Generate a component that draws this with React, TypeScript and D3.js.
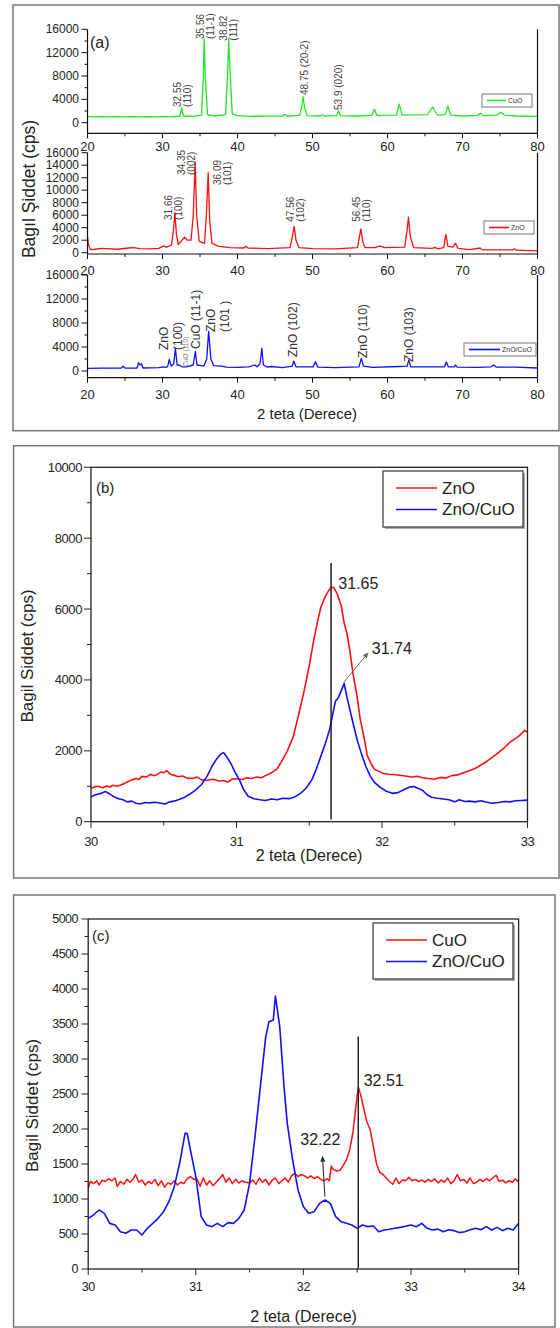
import React from "react";
import * as d3 from "d3";

type P = [number, number];

// ---------- Panel (a) patterns: [2θ, intensity] ----------
const cuoPatternA: P[] = [
  [20, 1050], [21, 1000], [22, 1040], [23, 1000], [24, 1050], [25, 990], [26, 1040], [27, 1000], [28, 1050], [29, 1000], [30, 1040], [31.5, 1060],
  [32.3, 1100], [32.55, 2500], [32.8, 1150], [34, 1100], [35.2, 1300], [35.45, 8000], [35.56, 14300], [35.7, 8000], [36, 1400], [37, 1150],
  [38.4, 1400], [38.7, 9000], [38.82, 14400], [39.0, 9000], [39.3, 1500], [40, 1200], [42, 1100], [44, 1120], [46, 1150], [46.3, 1450],
  [46.6, 1150], [48.3, 1250], [48.6, 3000], [48.75, 4450], [48.95, 2500], [49.3, 1200], [51, 1150], [51.3, 1350], [51.6, 1150], [53.2, 1200],
  [53.48, 2000], [53.75, 1200], [56, 1150], [57.9, 1250], [58.24, 2300], [58.6, 1250], [61.2, 1300], [61.57, 3200], [61.95, 1300],
  [65.3, 1400], [65.8, 2300], [66.05, 2650], [66.3, 2000], [66.7, 1300], [67.7, 1400], [68.05, 2850], [68.4, 1300], [70, 1150], [72, 1250],
  [72.4, 1600], [72.8, 1200], [74.6, 1300], [75.1, 1800], [75.6, 1300], [77, 1150], [80, 1100],
];

const znoPatternA: P[] = [
  [20, 2600], [20.15, 1200], [20.4, 500], [21, 550], [21.8, 700], [22.5, 650], [24, 550], [25.5, 750], [26.2, 800], [27, 650], [28.5, 600],
  [29.5, 700], [30.2, 1100], [30.5, 900], [31.2, 1200], [31.45, 3500], [31.66, 6400], [31.85, 3000], [32.1, 1300], [32.6, 2000], [32.95, 2500],
  [33.3, 2000], [33.8, 2000], [34.1, 6000], [34.35, 14500], [34.55, 6000], [34.9, 1800], [35.6, 1500], [35.85, 6000], [36.09, 12800],
  [36.3, 5000], [36.6, 1500], [37.5, 1000], [39, 800], [40.8, 750], [41.1, 1050], [41.4, 750], [44, 650], [47, 800], [47.3, 2500],
  [47.56, 4200], [47.8, 2000], [48.2, 800], [50, 650], [53, 600], [56.0, 800], [56.25, 2500], [56.45, 3800], [56.7, 1800], [57, 800],
  [58.3, 800], [59, 1100], [59.6, 800], [62.3, 900], [62.6, 3500], [62.8, 5700], [63.05, 2500], [63.5, 800], [66, 700], [66.35, 850],
  [66.7, 600], [67.5, 800], [67.78, 2950], [68.05, 1000], [68.7, 900], [69.05, 1500], [69.4, 700], [71, 500], [72.35, 750], [72.6, 450],
  [76.7, 450], [76.95, 600], [77.2, 400], [80, 300],
];

const compositePatternA: P[] = [
  [20, 450], [22, 480], [24.5, 480], [24.75, 800], [25, 480], [26.6, 500], [26.8, 1400], [27.0, 1000], [27.2, 1200], [27.4, 500], [29.5, 550],
  [30.15, 700], [30.5, 600], [30.7, 800], [30.9, 1950], [31.15, 800], [31.5, 1200], [31.72, 3800], [31.95, 1000], [32.2, 1000], [32.6, 700],
  [33.2, 700], [34.1, 1000], [34.38, 3250], [34.6, 1000], [35.2, 900], [35.5, 800], [35.9, 2000], [36.15, 6600], [36.45, 2000], [36.8, 900],
  [37.9, 800], [38.5, 650], [40, 600], [41.5, 700], [42.3, 1000], [42.6, 700], [43.0, 1200], [43.24, 3800], [43.45, 1000], [44, 650],
  [44.5, 750], [46, 550], [47.3, 800], [47.5, 1650], [47.8, 700], [50.1, 700], [50.4, 1550], [50.7, 650], [53, 550], [56.2, 700],
  [56.5, 2100], [56.8, 800], [58, 600], [61.5, 750], [62.6, 800], [62.85, 1850], [63.1, 700], [66.4, 700], [67.6, 700], [67.85, 1500],
  [68.1, 700], [68.9, 700], [69.05, 1000], [69.3, 650], [72, 600], [73.8, 700], [74.15, 1000], [74.5, 650], [77, 650], [80, 500],
];

// ---------- Panel (b) ----------
const znoZoomB: P[] = [
  [30.0, 940], [30.03, 990], [30.05, 1000], [30.08, 960], [30.11, 1010], [30.13, 980], [30.15, 1030], [30.18, 1000], [30.21, 1040], [30.25, 1120], [30.28, 1180],
  [30.31, 1220], [30.33, 1190], [30.35, 1280], [30.38, 1260], [30.41, 1340], [30.43, 1300], [30.45, 1320], [30.48, 1400], [30.5, 1380], [30.52, 1440], [30.55, 1330],
  [30.58, 1300], [30.6, 1270], [30.63, 1290], [30.66, 1230], [30.7, 1220], [30.73, 1260], [30.76, 1180], [30.8, 1170], [30.84, 1200],
  [30.88, 1150], [30.91, 1160], [30.94, 1120], [30.97, 1200], [31.0, 1210], [31.04, 1190], [31.07, 1240], [31.1, 1220], [31.14, 1260],
  [31.17, 1240], [31.2, 1300], [31.24, 1380], [31.28, 1500], [31.31, 1700], [31.35, 2000], [31.39, 2400], [31.42, 2900], [31.46, 3600],
  [31.5, 4400], [31.53, 5100], [31.56, 5700], [31.58, 6050], [31.61, 6350], [31.63, 6500], [31.65, 6620], [31.67, 6600], [31.69, 6450],
  [31.72, 6100], [31.74, 5600], [31.76, 5300], [31.78, 4800], [31.8, 4200], [31.83, 3500], [31.85, 2900], [31.88, 2300], [31.9, 1850],
  [31.93, 1600], [31.95, 1470], [31.98, 1420], [32.01, 1360], [32.04, 1340], [32.08, 1330], [32.12, 1310], [32.16, 1290], [32.2, 1260],
  [32.24, 1280], [32.28, 1240], [32.32, 1220], [32.36, 1200], [32.4, 1250], [32.44, 1230], [32.48, 1300], [32.52, 1320], [32.56, 1380],
  [32.6, 1440], [32.64, 1500], [32.68, 1600], [32.72, 1700], [32.76, 1820], [32.8, 1950], [32.84, 2080], [32.88, 2250], [32.92, 2350],
  [32.95, 2450], [32.98, 2580], [33.0, 2520],
];

const compositeZoomB: P[] = [
  [30.0, 700], [30.03, 760], [30.07, 800], [30.1, 850], [30.13, 780], [30.16, 700], [30.19, 650], [30.22, 620], [30.25, 560], [30.28, 580],
  [30.31, 520], [30.34, 500], [30.37, 540], [30.4, 530], [30.44, 550], [30.48, 520], [30.51, 500], [30.54, 560], [30.57, 580], [30.6, 620],
  [30.64, 680], [30.68, 780], [30.72, 900], [30.76, 1050], [30.8, 1300], [30.83, 1550], [30.86, 1750], [30.89, 1900], [30.91, 1950],
  [30.93, 1850], [30.96, 1650], [30.99, 1400], [31.02, 1180], [31.05, 900], [31.08, 720], [31.12, 650], [31.16, 620], [31.2, 600],
  [31.24, 640], [31.28, 620], [31.32, 660], [31.36, 650], [31.4, 700], [31.44, 800], [31.48, 950], [31.52, 1200], [31.55, 1500],
  [31.58, 1850], [31.61, 2200], [31.64, 2600], [31.66, 3000], [31.68, 3400], [31.7, 3500], [31.72, 3700], [31.74, 3900], [31.76, 3500],
  [31.78, 3150], [31.8, 2800], [31.83, 2300], [31.86, 1900], [31.89, 1550], [31.92, 1280], [31.95, 1100], [31.99, 960], [32.03, 860],
  [32.07, 800], [32.11, 820], [32.15, 900], [32.19, 980], [32.22, 990], [32.25, 940], [32.28, 880], [32.31, 760], [32.34, 690],
  [32.38, 660], [32.42, 640], [32.46, 620], [32.5, 560], [32.53, 620], [32.57, 570], [32.6, 580], [32.64, 560], [32.68, 590],
  [32.72, 550], [32.76, 520], [32.8, 540], [32.84, 570], [32.88, 560], [32.92, 590], [32.96, 600], [33.0, 610],
];

// ---------- Panel (c) ----------
const cuoZoomC: P[] = [
  [30.0, 1150], [30.02, 1250], [30.05, 1220], [30.08, 1260], [30.1, 1200], [30.13, 1270], [30.16, 1250], [30.19, 1290], [30.22, 1260],
  [30.25, 1300], [30.27, 1180], [30.3, 1250], [30.33, 1210], [30.36, 1280], [30.39, 1240], [30.42, 1290], [30.44, 1350], [30.47, 1240],
  [30.5, 1270], [30.53, 1200], [30.56, 1250], [30.59, 1220], [30.62, 1280], [30.65, 1190], [30.68, 1260], [30.71, 1170], [30.74, 1230],
  [30.77, 1210], [30.8, 1260], [30.83, 1200], [30.86, 1240], [30.89, 1220], [30.92, 1290], [30.95, 1320], [30.98, 1280], [31.01, 1290],
  [31.04, 1180], [31.07, 1300], [31.1, 1200], [31.13, 1260], [31.16, 1190], [31.19, 1240], [31.22, 1290], [31.25, 1350], [31.28, 1240],
  [31.31, 1300], [31.34, 1220], [31.37, 1280], [31.4, 1230], [31.43, 1260], [31.46, 1240], [31.5, 1230], [31.53, 1270], [31.56, 1210],
  [31.59, 1300], [31.62, 1240], [31.65, 1280], [31.68, 1200], [31.71, 1270], [31.74, 1300], [31.77, 1220], [31.8, 1260], [31.83, 1300],
  [31.86, 1240], [31.89, 1330], [31.92, 1370], [31.95, 1320], [31.98, 1350], [32.01, 1330], [32.04, 1300], [32.07, 1330], [32.1, 1290],
  [32.13, 1320], [32.16, 1280], [32.19, 1260], [32.22, 1290], [32.24, 1260], [32.26, 1470], [32.28, 1420], [32.31, 1400], [32.34, 1410],
  [32.37, 1480], [32.4, 1560], [32.43, 1700], [32.46, 1950], [32.49, 2350], [32.51, 2600], [32.53, 2500], [32.56, 2300], [32.59, 2100],
  [32.62, 2000], [32.65, 1750], [32.68, 1500], [32.71, 1380], [32.74, 1350], [32.77, 1300], [32.8, 1250], [32.83, 1210], [32.86, 1300],
  [32.89, 1220], [32.92, 1270], [32.95, 1260], [32.98, 1310], [33.01, 1260], [33.04, 1280], [33.07, 1250], [33.1, 1270], [33.13, 1240],
  [33.16, 1280], [33.19, 1250], [33.22, 1290], [33.25, 1230], [33.28, 1270], [33.31, 1240], [33.34, 1300], [33.37, 1220], [33.4, 1260],
  [33.43, 1350], [33.46, 1260], [33.49, 1280], [33.52, 1230], [33.55, 1300], [33.58, 1220], [33.61, 1240], [33.64, 1280], [33.67, 1250],
  [33.7, 1290], [33.73, 1260], [33.76, 1300], [33.79, 1340], [33.82, 1250], [33.85, 1270], [33.88, 1230], [33.91, 1260], [33.94, 1240],
  [33.97, 1290], [34.0, 1240],
];

const compositeZoomC: P[] = [
  [30.0, 724], [30.05, 771], [30.1, 843], [30.15, 795], [30.2, 652], [30.25, 629], [30.3, 533], [30.35, 510], [30.4, 557], [30.45, 557],
  [30.5, 486], [30.55, 581], [30.6, 652], [30.65, 724], [30.7, 819], [30.75, 962], [30.8, 1176], [30.85, 1510], [30.9, 1938], [30.92, 1938],
  [30.95, 1700], [31.0, 1319], [31.05, 748], [31.1, 629], [31.15, 605], [31.2, 652], [31.25, 605], [31.3, 662], [31.35, 652], [31.4, 724],
  [31.45, 843], [31.5, 1224], [31.55, 1891], [31.6, 2605], [31.65, 3319], [31.68, 3533], [31.72, 3557], [31.74, 3900], [31.78, 3462],
  [31.82, 2605], [31.85, 2081], [31.9, 1557], [31.95, 1129], [32.0, 890], [32.05, 795], [32.1, 819], [32.15, 938], [32.2, 986],
  [32.25, 938], [32.3, 748], [32.35, 676], [32.4, 652], [32.45, 629], [32.5, 581], [32.55, 629], [32.6, 605], [32.65, 614], [32.7, 533],
  [32.75, 557], [32.8, 567], [32.85, 581], [32.9, 595], [32.95, 610], [33.0, 629], [33.05, 605], [33.1, 652], [33.15, 581], [33.2, 557],
  [33.25, 570], [33.3, 533], [33.35, 560], [33.4, 548], [33.45, 520], [33.5, 533], [33.55, 560], [33.6, 581], [33.65, 560], [33.7, 605],
  [33.75, 557], [33.8, 595], [33.85, 548], [33.9, 581], [33.95, 557], [34.0, 652],
];

// ---------- ticks ----------
const xTicksA = [20, 30, 40, 50, 60, 70, 80];
const yTicksA4k = [0, 4000, 8000, 12000, 16000];
const yTicksA2k = [0, 2000, 4000, 6000, 8000, 10000, 12000, 14000, 16000];
const xTicksB = [30, 31, 32, 33];
const yTicksB = [0, 2000, 4000, 6000, 8000, 10000];
const xTicksC = [30, 31, 32, 33, 34];
const yTicksC = [0, 500, 1000, 1500, 2000, 2500, 3000, 3500, 4000, 4500, 5000];

// ---------- peak labels (a) ----------
const cuoLabels = [
  { x: 32.6, y: 2700, lines: ["32.55", "(110)"] },
  { x: 35.7, y: 14340, lines: ["35.56", "(11-1)"] },
  { x: 38.8, y: 14050, lines: ["38.82", "(111)"] },
  { x: 48.87, y: 4745, lines: ["48.75 (20-2)"] },
  { x: 53.53, y: 2175, lines: ["53.9 (020)"] },
];
const znoLabels = [
  { x: 31.44, y: 5230, lines: ["31.66", "(100)"] },
  { x: 33.2, y: 12430, lines: ["34.35", "(002)"] },
  { x: 38.0, y: 10830, lines: ["36.09", "(101)"] },
  { x: 47.73, y: 4960, lines: ["47.56", "(102)"] },
  { x: 56.53, y: 4960, lines: ["56.45", "(110)"] },
];
const compositeLabels = [
  { x: 31.07, y: 3500, lines: ["ZnO", "(100)"] },
  { x: 34.43, y: 3667, lines: ["CuO (11-1)"] },
  { x: 37.38, y: 6500, lines: ["ZnO", "(101 )"] },
  { x: 47.39, y: 2330, lines: ["ZnO (102)"] },
  { x: 56.67, y: 2170, lines: ["ZnO (110)"] },
  { x: 62.87, y: 1500, lines: ["ZnO (103)"] },
];

const FONT = "Arial, 'Liberation Sans', Helvetica, sans-serif";
const GREEN = "#22e622";
const RED = "#ff1010";
const BLUE = "#1010ff";

type Scale = d3.ScaleLinear<number, number>;

function lineOf(xs: Scale, ys: Scale, d: P[]) {
  return d3.line<P>().x((p) => xs(p[0])).y((p) => ys(p[1]))(d) || "";
}

function RotLabel({ x, y, lines, size, gap, color }: { x: number; y: number; lines: string[]; size: number; gap: number; color: string }) {
  const n = lines.length;
  return (
    <g>
      {lines.map((t, i) => (
        <text
          key={i}
          transform={`translate(${x + (i - (n - 1) / 2) * gap},${y}) rotate(-90)`}
          dominantBaseline="central"
          fontSize={size}
          fill={color}
          fontFamily={FONT}
        >
          {t}
        </text>
      ))}
    </g>
  );
}

function SmallLegend({ x, y, w, lineLen, label, color }: { x: number; y: number; w: number; lineLen: number; label: string; color: string }) {
  return (
    <g>
      <rect x={x} y={y} width={w} height={13} fill="#fff" stroke="#777" strokeWidth={1} />
      <line x1={x + 5} x2={x + 5 + lineLen} y1={y + 6.5} y2={y + 6.5} stroke={color} strokeWidth={1.6} />
      <text x={x + 7 + lineLen} y={y + 6.5} dominantBaseline="central" fontSize={7} fontFamily={FONT} fill="#333">
        {label}
      </text>
    </g>
  );
}

function SubplotA({
  y0, y16, axisY, labelY, yTicks, minorStep, data, color, labels, labelSize, labelGap, labelColor, showXLabels,
}: {
  y0: number; y16: number; axisY: number; labelY: number; yTicks: number[]; minorStep: number | null; data: P[]; color: string;
  labels: { x: number; y: number; lines: string[] }[]; labelSize: number; labelGap: number; labelColor: string; showXLabels: boolean;
}) {
  const xs = d3.scaleLinear().domain([20, 80]).range([87.5, 537.5]);
  const ys = d3.scaleLinear().domain([0, 16000]).range([y0, y16]);
  const minors = minorStep ? d3.range(minorStep, 16000, minorStep).filter((v) => !yTicks.includes(v)) : [];
  const xMinor = d3.range(25, 80, 10);
  const top = ys(16000);
  return (
    <g>
      <path d={lineOf(xs, ys, data)} fill="none" stroke={color} strokeWidth={1.3} strokeLinejoin="round" />
      <line x1={87.5} x2={87.5} y1={top} y2={axisY} stroke="#111" strokeWidth={1.2} />
      <line x1={537.5} x2={537.5} y1={top} y2={axisY} stroke="#111" strokeWidth={1.2} />
      <line x1={87.5} x2={537.5} y1={axisY} y2={axisY} stroke="#111" strokeWidth={1.2} />
      {yTicks.map((v) => (
        <g key={v}>
          <line x1={81.5} x2={87.5} y1={ys(v)} y2={ys(v)} stroke="#111" strokeWidth={1} />
          <text x={79} y={ys(v)} textAnchor="end" dominantBaseline="central" fontSize={12} fontFamily={FONT} fill="#222">
            {v}
          </text>
        </g>
      ))}
      {minors.map((v) => (
        <line key={v} x1={84.5} x2={87.5} y1={ys(v)} y2={ys(v)} stroke="#111" strokeWidth={1} />
      ))}
      {xTicksA.map((v) => (
        <g key={v}>
          <line x1={xs(v)} x2={xs(v)} y1={axisY} y2={axisY + 5} stroke="#111" strokeWidth={1} />
          {showXLabels && (
            <text x={xs(v)} y={labelY} textAnchor="middle" dominantBaseline="central" fontSize={13} fontFamily={FONT} fill="#222">
              {v}
            </text>
          )}
        </g>
      ))}
      {xMinor.map((v) => (
        <line key={v} x1={xs(v)} x2={xs(v)} y1={axisY} y2={axisY + 3} stroke="#111" strokeWidth={1} />
      ))}
      {labels.map((l, i) => (
        <RotLabel key={i} x={xs(l.x)} y={ys(l.y)} lines={l.lines} size={labelSize} gap={labelGap} color={labelColor} />
      ))}
    </g>
  );
}

function BigLegend({ x, y, items }: { x: number; y: number; items: { label: string; color: string }[] }) {
  return (
    <g>
      <rect x={x + 2} y={y + 2} width={140} height={56} fill="#aaa" />
      <rect x={x} y={y} width={140} height={56} fill="#fff" stroke="#444" strokeWidth={1.3} />
      {items.map((it, i) => (
        <g key={i}>
          <line x1={x + 13} x2={x + 54} y1={y + 17 + i * 21.5} y2={y + 17 + i * 21.5} stroke={it.color} strokeWidth={1.6} />
          <text x={x + 59} y={y + 17 + i * 21.5} dominantBaseline="central" fontSize={17} fontFamily={FONT} fill="#222">
            {it.label}
          </text>
        </g>
      ))}
    </g>
  );
}

function Arrow({ x1, y1, x2, y2, color }: { x1: number; y1: number; x2: number; y2: number; color: string }) {
  const a = Math.atan2(y2 - y1, x2 - x1);
  const L = 6, W = 2.5;
  const bx = x2 - L * Math.cos(a), by = y2 - L * Math.sin(a);
  const p1 = [bx + W * Math.sin(a), by - W * Math.cos(a)];
  const p2 = [bx - W * Math.sin(a), by + W * Math.cos(a)];
  return (
    <g>
      <line x1={x1} y1={y1} x2={bx} y2={by} stroke={color} strokeWidth={1} />
      <path d={`M${x2},${y2}L${p1[0]},${p1[1]}L${p2[0]},${p2[1]}Z`} fill={color} />
    </g>
  );
}

export default function App() {
  const xA = d3.scaleLinear().domain([20, 80]).range([87.5, 537.5]);
  // Panel (b) scales
  const xB = d3.scaleLinear().domain([30, 33]).range([91, 527.5]);
  const yB = d3.scaleLinear().domain([0, 10000]).range([821.7, 467.3]);
  // Panel (c) scales
  const xC = d3.scaleLinear().domain([30, 34]).range([88.2, 518.6]);
  const yC = d3.scaleLinear().domain([0, 5000]).range([1269, 919]);

  const xMinorB = d3.range(30.5, 33, 1);
  const yMinorB = d3.range(1000, 10000, 2000);
  const xMinorC = d3.range(30.5, 34, 1);
  const yMinorC = d3.range(250, 5000, 500);

  return (
    <svg width={560} height={1328} style={{ position: "absolute", left: 0, top: 0, background: "#fff" }} fontFamily={FONT}>
      <rect x={0} y={0} width={560} height={1328} fill="#fff" />
      {/* ===== Panel (a) ===== */}
      <rect x={13} y={5} width={546} height={425.7} fill="none" stroke="#777" strokeWidth={1.5} />
      <SubplotA
        y0={122.7} y16={29.3} axisY={133.3} labelY={146.7} yTicks={yTicksA4k} minorStep={2000}
        data={cuoPatternA} color={GREEN} labels={cuoLabels} labelSize={10} labelGap={10} labelColor="#444" showXLabels
      />
      <SubplotA
        y0={252.7} y16={152.7} axisY={254} labelY={270} yTicks={yTicksA2k} minorStep={null}
        data={znoPatternA} color={RED} labels={znoLabels} labelSize={10} labelGap={10} labelColor="#444" showXLabels
      />
      <SubplotA
        y0={371} y16={275} axisY={377.7} labelY={394.5} yTicks={yTicksA4k} minorStep={2000}
        data={compositePatternA} color={BLUE} labels={compositeLabels} labelSize={12} labelGap={14} labelColor="#333" showXLabels
      />
      <RotLabel x={xA(33.09)} y={366.7} lines={["CuO (110)"]} size={6.5} gap={0} color="#777" />
      <text x={90} y={42} dominantBaseline="central" fontSize={16} fontFamily={FONT} fill="#222">(a)</text>
      <SmallLegend x={482} y={94} w={50} lineLen={19} label="CuO" color={GREEN} />
      <SmallLegend x={484} y={221} w={50} lineLen={20} label="ZnO" color={RED} />
      <SmallLegend x={464} y={343} w={72} lineLen={31} label="ZnO/CuO" color={BLUE} />
      <text transform="translate(29,189) rotate(-90)" textAnchor="middle" dominantBaseline="central" fontSize={17.5} fontFamily={FONT} fill="#222">
        Bagıl Şiddet (cps)
      </text>
      <text x={307} y={413} textAnchor="middle" dominantBaseline="central" fontSize={15} fontFamily={FONT} fill="#222">
        2 teta (Derece)
      </text>

      {/* ===== Panel (b) ===== */}
      <rect x={13.6} y={445.7} width={545.4} height={432.3} fill="none" stroke="#777" strokeWidth={1.5} />
      <path d={lineOf(xB, yB, znoZoomB)} fill="none" stroke={RED} strokeWidth={1.6} strokeLinejoin="round" />
      <path d={lineOf(xB, yB, compositeZoomB)} fill="none" stroke={BLUE} strokeWidth={1.6} strokeLinejoin="round" />
      <rect x={91} y={467.3} width={436.5} height={354.4} fill="none" stroke="#222" strokeWidth={1.3} />
      {yTicksB.map((v) => (
        <g key={v}>
          <line x1={84} x2={91} y1={yB(v)} y2={yB(v)} stroke="#222" strokeWidth={1} />
          <text x={82} y={yB(v)} textAnchor="end" dominantBaseline="central" fontSize={13} letterSpacing={-0.4} fill="#222">{v}</text>
        </g>
      ))}
      {yMinorB.map((v) => (
        <line key={v} x1={87} x2={91} y1={yB(v)} y2={yB(v)} stroke="#222" strokeWidth={1} />
      ))}
      {xTicksB.map((v) => (
        <g key={v}>
          <line x1={xB(v)} x2={xB(v)} y1={821.7} y2={828} stroke="#222" strokeWidth={1} />
          <text x={xB(v)} y={841} textAnchor="middle" dominantBaseline="central" fontSize={13} letterSpacing={-0.4} fill="#222">{v}</text>
        </g>
      ))}
      {xMinorB.map((v) => (
        <line key={v} x1={xB(v)} x2={xB(v)} y1={821.7} y2={825.5} stroke="#222" strokeWidth={1} />
      ))}
      <line x1={xB(31.65)} x2={xB(31.65)} y1={yB(7300)} y2={yB(60)} stroke="#222" strokeWidth={1.5} />
      <text x={xB(31.7)} y={yB(6735)} dominantBaseline="central" fontSize={16} fill="#222">31.65</text>
      <Arrow x1={xB(31.736)} y1={yB(3925)} x2={xB(31.908)} y2={yB(4780)} color="#666" />
      <text x={xB(31.93)} y={yB(4900)} dominantBaseline="central" fontSize={16} fill="#222">31.74</text>
      <text x={96} y={487} dominantBaseline="central" fontSize={15} fill="#222">(b)</text>
      <BigLegend x={383} y={471} items={[{ label: "ZnO", color: RED }, { label: "ZnO/CuO", color: BLUE }]} />
      <text transform="translate(27,656) rotate(-90)" textAnchor="middle" dominantBaseline="central" fontSize={17} fill="#222">
        Bagil Siddet (cps)
      </text>
      <text x={309} y={855} textAnchor="middle" dominantBaseline="central" fontSize={16} fill="#222">2 teta (Derece)</text>

      {/* ===== Panel (c) ===== */}
      <rect x={13.6} y={895} width={541.4} height={432} fill="none" stroke="#777" strokeWidth={1.5} />
      <path d={lineOf(xC, yC, cuoZoomC)} fill="none" stroke={RED} strokeWidth={1.5} strokeLinejoin="round" />
      <path d={lineOf(xC, yC, compositeZoomC)} fill="none" stroke={BLUE} strokeWidth={1.6} strokeLinejoin="round" />
      <rect x={88.2} y={919} width={430.4} height={350} fill="none" stroke="#222" strokeWidth={1.3} />
      {yTicksC.map((v) => (
        <g key={v}>
          <line x1={81.5} x2={88.2} y1={yC(v)} y2={yC(v)} stroke="#222" strokeWidth={1} />
          <text x={78} y={yC(v)} textAnchor="end" dominantBaseline="central" fontSize={12.5} letterSpacing={-0.5} fill="#222">{v}</text>
        </g>
      ))}
      {yMinorC.map((v) => (
        <line key={v} x1={84.5} x2={88.2} y1={yC(v)} y2={yC(v)} stroke="#222" strokeWidth={1} />
      ))}
      {xTicksC.map((v) => (
        <g key={v}>
          <line x1={xC(v)} x2={xC(v)} y1={1269} y2={1275} stroke="#222" strokeWidth={1} />
          <text x={xC(v)} y={1287} textAnchor="middle" dominantBaseline="central" fontSize={12.5} letterSpacing={-0.4} fill="#222">{v}</text>
        </g>
      ))}
      {xMinorC.map((v) => (
        <line key={v} x1={xC(v)} x2={xC(v)} y1={1269} y2={1272.5} stroke="#222" strokeWidth={1} />
      ))}
      <line x1={xC(32.51)} x2={xC(32.51)} y1={yC(3319)} y2={yC(10)} stroke="#222" strokeWidth={1.5} />
      <text x={xC(32.56)} y={yC(2690)} dominantBaseline="central" fontSize={16} fill="#222">32.51</text>
      <Arrow x1={xC(32.2)} y1={yC(1033)} x2={xC(32.177)} y2={yC(1619)} color="#222" />
      <text x={xC(32.157)} y={yC(1857)} textAnchor="middle" dominantBaseline="central" fontSize={16} fill="#222">32.22</text>
      <text x={92} y={935} dominantBaseline="central" fontSize={15} fill="#222">(c)</text>
      <BigLegend x={373} y={923} items={[{ label: "CuO", color: RED }, { label: "ZnO/CuO", color: BLUE }]} />
      <text transform="translate(32,1105.5) rotate(-90)" textAnchor="middle" dominantBaseline="central" fontSize={17} fill="#222">
        Bagil Siddet (cps)
      </text>
      <text x={303.5} y={1316} textAnchor="middle" dominantBaseline="central" fontSize={16} fill="#222">2 teta (Derece)</text>
    </svg>
  );
}
